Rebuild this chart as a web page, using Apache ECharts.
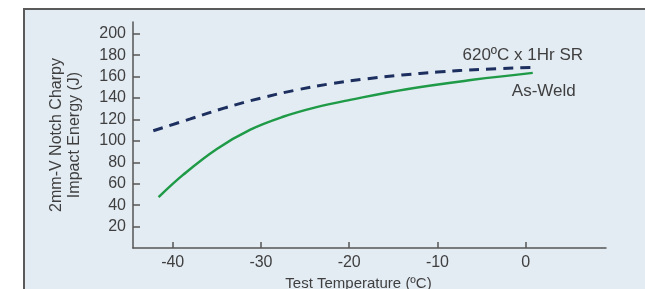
<!DOCTYPE html>
<html>
<head>
<meta charset="utf-8">
<script src="https://cdn.jsdelivr.net/npm/echarts@6/dist/echarts.min.js"></script>
<style>
  html, body { margin: 0; padding: 0; background: #fff; }
  #chart { width: 645px; height: 289px; }
</style>
</head>
<body>
<div id="chart"></div>
<script>
// test temperature (C) and impact energy (J)
var tempAsWeld = [-41.6, -38.8, -35, -31.2, -27.5, -23.7, -19.9, -13.5, -6, 0.8];
var energyAsWeld = [47.5, 68.5, 92.5, 110.5, 122.5, 131.5, 138.3, 148.3, 157, 163.5];

var tempSR = [-42.2, -38, -34, -30, -26, -22, -18, -14, -10, -5, 0.8];
var energySR = [109.5, 120.5, 131, 140, 147.5, 153.5, 158, 161.5, 164.3, 166.8, 168.7];

var xTicks = [-40, -30, -20, -10, 0];
var yTicks = [20, 40, 60, 80, 100, 120, 140, 160, 180, 200];

var labelSR = '620ºC x 1Hr SR';
var labelAsWeld = 'As-Weld';

var font = 'Liberation Sans, Arial, sans-serif';
var textColor = '#3f3f3f';

function buildData(xs, ys, label) {
    var out = [];
    for (var i = 0; i < xs.length; i++) {
        var item = { value: [xs[i], ys[i]] };
        if (i === xs.length - 1) item.label = label;
        out.push(item);
    }
    return out;
}

var chart = echarts.init(document.getElementById('chart'), null, { renderer: 'canvas' });

chart.setOption({
    animation: false,
    backgroundColor: '#ffffff',
    graphic: [{
        type: 'rect',
        z: -10,
        silent: true,
        shape: { x: 24, y: 9, width: 700, height: 400 },
        style: { fill: '#e3ebf3', stroke: '#5a5a5a', lineWidth: 2 }
    }],
    grid: { left: 133, top: 22, right: 39, bottom: 41, outerBoundsMode: 'none', containLabel: false },
    xAxis: {
        type: 'value',
        min: -44.5,
        max: 9.1,
        name: 'Test Temperature (ºC)',
        nameLocation: 'middle',
        nameGap: 25,
        nameTextStyle: { fontFamily: font, fontSize: 15, color: textColor, padding: [0, 22, 0, 0] },
        splitLine: { show: false },
        axisLine: { onZero: false, lineStyle: { color: '#555', width: 1.5 } },
        axisTick: { inside: true, length: 6, customValues: xTicks, lineStyle: { color: '#555', width: 1.5 } },
        axisLabel: { customValues: xTicks, margin: 7, fontFamily: font, fontSize: 16, color: textColor }
    },
    yAxis: {
        type: 'value',
        min: 0,
        max: 211,
        name: '2mm-V Notch Charpy\nImpact Energy (J)',
        nameLocation: 'middle',
        nameGap: 49,
        nameTextStyle: { fontFamily: font, fontSize: 16, color: textColor, lineHeight: 18 },
        splitLine: { show: false },
        axisLine: { show: true, onZero: false, lineStyle: { color: '#555', width: 1.5 } },
        axisTick: { show: true, inside: true, length: 7, customValues: yTicks, lineStyle: { color: '#555', width: 1.5 } },
        axisLabel: { customValues: yTicks, margin: 7, fontFamily: font, fontSize: 16, color: textColor }
    },
    series: [{
        type: 'line',
        name: labelSR,
        smooth: 0.4,
        symbol: 'circle',
        symbolSize: 0,
        showSymbol: true,
        lineStyle: { color: '#1c2f5f', width: 3, type: [10, 7] },
        itemStyle: { color: '#1c2f5f' },
        data: buildData(tempSR, energySR, {
            show: true, formatter: labelSR, position: 'top', distance: 3, offset: [-10, 0],
            fontFamily: font, fontSize: 17, color: textColor
        })
    }, {
        type: 'line',
        name: labelAsWeld,
        smooth: 0.4,
        symbol: 'circle',
        symbolSize: 0,
        showSymbol: true,
        lineStyle: { color: '#1f9a47', width: 2.5 },
        itemStyle: { color: '#1f9a47' },
        data: buildData(tempAsWeld, energyAsWeld, {
            show: true, formatter: labelAsWeld, position: 'bottom', distance: 10, offset: [11, 0],
            fontFamily: font, fontSize: 17, color: textColor
        })
    }]
});
</script>
</body>
</html>
